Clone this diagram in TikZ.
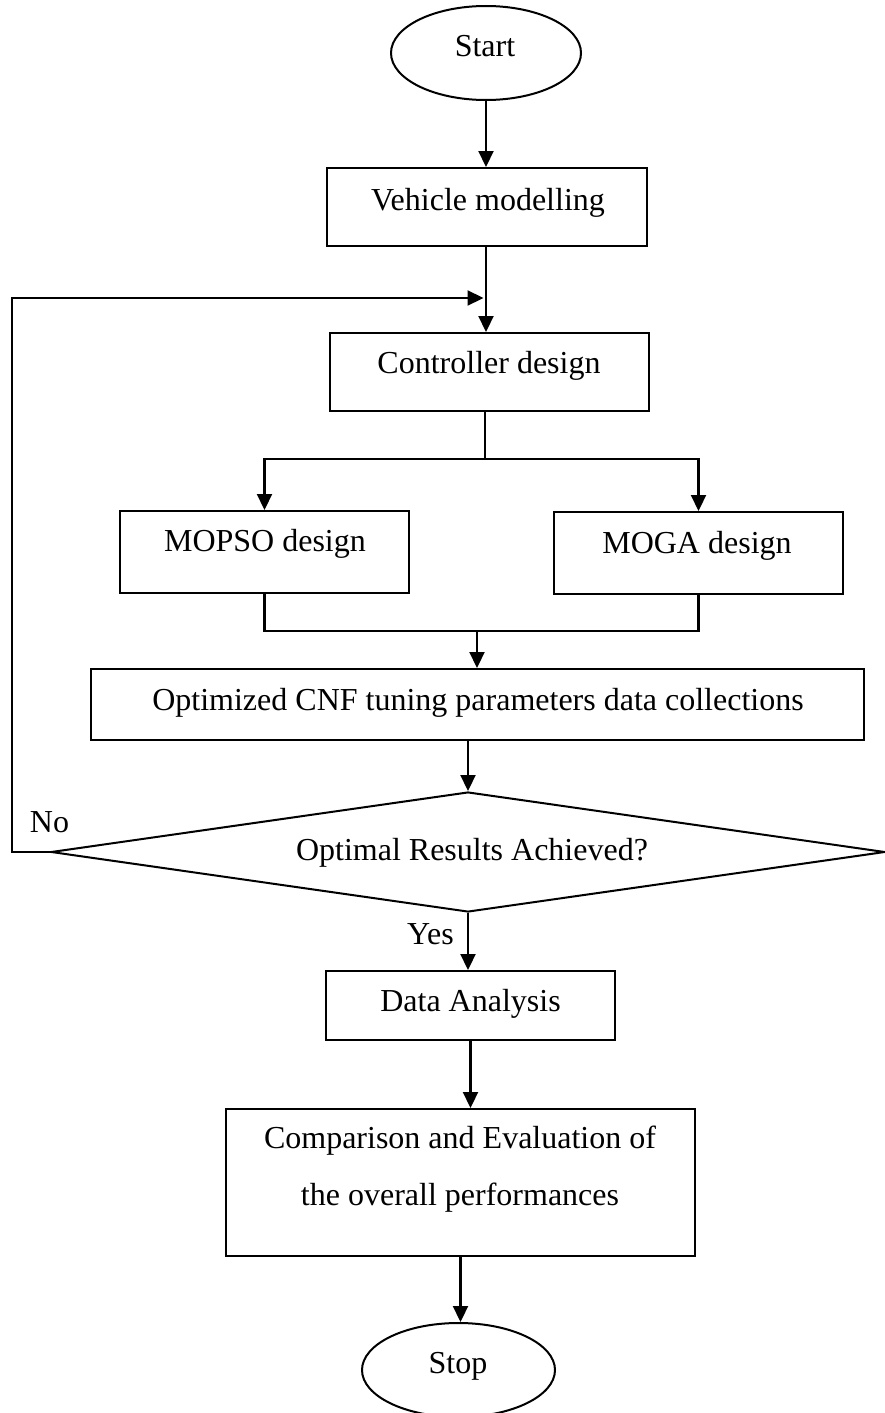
\documentclass[tikz,border=0pt]{standalone}
\usepackage{fontspec}
\setmainfont{Liberation Serif}
\usetikzlibrary{shapes.geometric,arrows.meta}
\begin{document}
\begin{tikzpicture}[x=1pt,y=-1pt,
  box/.style={draw, line width=2pt, inner sep=0pt, rectangle},
  ell/.style={draw, line width=2pt, inner sep=0pt, ellipse},
  dia/.style={draw, line width=2pt, inner sep=0pt, diamond},
  txt/.style={anchor=base, inner sep=0pt, font=\fontsize{32}{57}\selectfont},
  arr/.style={line width=2.2pt, -{Triangle[length=16pt,width=15pt]}},
  conn/.style={line width=2.2pt},
  thinconn/.style={line width=1.4pt}]
\useasboundingbox (0,0) rectangle (885,1413);
% nodes
\node[ell, minimum width=190pt, minimum height=94pt] (start) at (486,53) {};
\node[txt] (startT) at (485,57) {Start};
\node[box, minimum width=320pt, minimum height=78pt] (veh) at (487,207) {};
\node[txt] (vehT) at (488,210) {Vehicle modelling};
\node[box, minimum width=319pt, minimum height=78pt] (ctrl) at (489.5,372) {};
\node[txt] (ctrlT) at (489,373) {Controller design};
\node[box, minimum width=289pt, minimum height=82pt] (mopso) at (264.5,552) {};
\node[txt] (mopsoT) at (265,551) {MOPSO design};
\node[box, minimum width=289pt, minimum height=82pt] (moga) at (698.5,553) {};
\node[txt] (mogaT) at (697,553) {MOGA design};
\node[box, minimum width=773pt, minimum height=71pt] (opt) at (477.5,704.5) {};
\node[txt] (optT) at (478,710) {Optimized CNF tuning parameters data collections};
\node[dia, minimum width=834pt, minimum height=120pt] (dec) at (468,852) {};
\node[txt] (decT) at (472,860) {Optimal Results Achieved?};
\node[txt] (noT) at (49.5,832) {No};
\node[txt] (yesT) at (430.5,944) {Yes};
\node[box, minimum width=289pt, minimum height=69pt] (da) at (470.5,1005.5) {};
\node[txt] (daT) at (470.5,1011) {Data Analysis};
\node[box, minimum width=469pt, minimum height=147pt] (comp) at (460.5,1182.5) {};
\node[txt] (compT1) at (460,1148) {Comparison and Evaluation of};
\node[txt] (compT2) at (460,1205) {the overall performances};
\node[ell, minimum width=193pt, minimum height=94pt] (stop) at (458.5,1370) {};
\node[txt] (stopT) at (458,1373) {Stop};
% coordinates
\coordinate (fbin) at (483.5,298);
\coordinate (split) at (485,459);
\coordinate (merge) at (477,631);
% connectors
\draw[arr] (start.south) -- (start.south |- veh.north);
\draw[arr] (start.south |- veh.south) -- (start.south |- ctrl.north);
\draw[arr] (dec.west) -- ++(-38,0) |- (fbin);
\draw[thinconn] (split |- ctrl.south) -- (split);
\draw[arr] (split) -| (mopso.north);
\draw[arr] (split) -| (moga.north);
\draw[conn] (mopso.south) |- (merge) -| (moga.south);
\draw[arr] (merge) -- (merge |- opt.north);
\draw[arr] (dec.north |- opt.south) -- (dec.north);
\draw[arr] (dec.south) -- (dec.south |- da.north);
\draw[arr] (da.south) -- (da.south |- comp.north);
\draw[arr] (comp.south) -- (comp.south |- stop.north);
\end{tikzpicture}
\end{document}
